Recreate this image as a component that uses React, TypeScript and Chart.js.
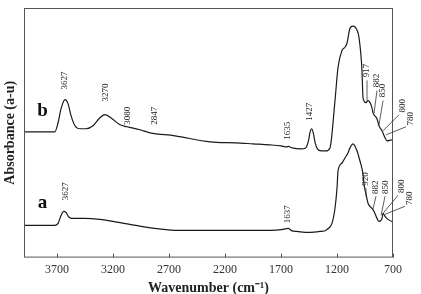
import React, { useEffect, useRef } from "react";
import { Chart, registerables } from "chart.js";

Chart.register(...registerables);

// ---- data (wavenumber cm-1, absorbance in arbitrary units) ----
const bWn = [4000, 3850, 3720, 3691, 3664, 3629, 3602, 3575, 3540, 3495, 3440, 3379, 3317, 3272, 3209, 3138, 3075, 2959, 2870, 2647, 2334, 2100, 1950, 1800, 1700, 1650, 1635, 1600, 1520, 1480, 1455, 1440, 1427, 1412, 1395, 1375, 1340, 1300, 1263, 1218, 1191, 1155, 1129, 1111, 1084, 1057, 1021, 1004, 977, 968, 941, 923, 888, 879, 843, 825, 798, 771, 754, 709, 700];
const bVal = [125, 125, 125, 134, 148, 157, 153, 141, 131, 128, 128, 131, 139, 142, 138, 132, 130, 127, 124, 121, 115, 114, 113, 112, 111, 110, 110.5, 109, 108, 109, 116, 125, 128, 124, 114, 108, 106, 106, 109, 156, 189, 206, 209, 213, 228, 230, 226, 219, 186, 159, 154, 156, 149, 144, 138, 131, 126, 119, 116, 117, 117];

const aWn = [4000, 3850, 3720, 3691, 3664, 3640, 3620, 3600, 3570, 3450, 3320, 3150, 2950, 2750, 2650, 2400, 2200, 2000, 1800, 1680, 1637, 1600, 1560, 1450, 1350, 1300, 1289, 1245, 1218, 1200, 1191, 1155, 1129, 1102, 1084, 1057, 1021, 995, 968, 959, 941, 923, 888, 870, 843, 825, 807, 798, 789, 771, 745, 709, 700];
const aVal = [32, 32, 32, 34, 42, 46, 45, 41, 39, 39, 38, 35, 31, 28, 27, 27, 27, 27, 27, 28, 29, 26.5, 26, 25, 26, 27, 28, 34, 49, 69, 86, 94, 99, 104, 109, 113, 106, 96, 83, 73, 63, 54, 49, 46, 39, 36, 37, 39, 44, 41, 38, 36, 36];

const xTicks = [3700, 3200, 2700, 2200, 1700, 1200, 700];

// peak labels: text, label centre (wn, value), optional leader from -> to
const bLabels = ["3627", "3270", "3080", "2847", "1635", "1427", "917", "882", "850", "800", "780"];
const bLabelWn = [3629, 3263, 3066, 2825, 1638, 1441, 932, 843, 789, 611, 539];
const bLabelV = [176, 164, 141, 141, 126, 145, 186, 176, 166, 151, 138];
const bLeadFromWn = [null, null, null, null, null, null, 932, 843, 789, 646, 584];
const bLeadFromV = [null, null, null, null, null, null, 176, 166, 156, 142, 130];
const bLeadToWn = [null, null, null, null, null, null, 932, 870, 825, 789, 762];
const bLeadToV = [null, null, null, null, null, null, 156, 143, 132, 126, 122];

const aLabels = ["3627", "1637", "920", "882", "850", "800", "780"];
const aLabelWn = [3620, 1638, 941, 852, 762, 620, 548];
const aLabelV = [66, 43, 78, 70, 70, 71, 59];
const aLeadFromWn = [null, null, 941, 852, 771, 655, 593];
const aLeadFromV = [null, null, 69, 61, 61, 62, 51];
const aLeadToWn = [null, null, 941, 879, 807, 789, 771];
const aLeadToV = [null, null, 61, 48, 42, 44, 43];

const seriesNames = ["b", "a"];
const seriesNameWn = [3830, 3830];
const seriesNameV = [146, 54];

const SERIF = "'Liberation Serif', 'Times New Roman', serif";

const decorations = {
  id: "decorations",
  afterDraw(chart: any) {
    const { ctx, chartArea, scales } = chart;
    const xs = scales.x;
    const ys = scales.y;
    ctx.save();
    // frame
    ctx.strokeStyle = "#555";
    ctx.lineWidth = 1;
    ctx.strokeRect(chartArea.left + 0.5, chartArea.top + 0.5, chartArea.right - chartArea.left - 1, chartArea.bottom - chartArea.top - 1);
    // inward ticks
    ctx.beginPath();
    xTicks.forEach((t) => {
      const px = Math.round(xs.getPixelForValue(t)) + 0.5;
      ctx.moveTo(px, chartArea.bottom);
      ctx.lineTo(px, chartArea.bottom - 4);
    });
    ctx.stroke();

    // labels
    const drawSet = (texts: string[], lw: number[], lv: number[], fw: any[], fv: any[], tw: any[], tv: any[]) => {
      ctx.fillStyle = "#222";
      ctx.strokeStyle = "#333";
      ctx.lineWidth = 0.8;
      ctx.font = `9px ${SERIF}`;
      ctx.textAlign = "center";
      ctx.textBaseline = "middle";
      texts.forEach((t, i) => {
        const px = xs.getPixelForValue(lw[i]);
        const py = ys.getPixelForValue(lv[i]);
        ctx.save();
        ctx.translate(px, py);
        ctx.rotate(-Math.PI / 2);
        ctx.fillText(t, 0, 0);
        ctx.restore();
        if (fw[i] != null) {
          ctx.beginPath();
          ctx.moveTo(xs.getPixelForValue(fw[i]), ys.getPixelForValue(fv[i]));
          ctx.lineTo(xs.getPixelForValue(tw[i]), ys.getPixelForValue(tv[i]));
          ctx.stroke();
        }
      });
    };
    drawSet(bLabels, bLabelWn, bLabelV, bLeadFromWn, bLeadFromV, bLeadToWn, bLeadToV);
    drawSet(aLabels, aLabelWn, aLabelV, aLeadFromWn, aLeadFromV, aLeadToWn, aLeadToV);

    // series letters
    ctx.fillStyle = "#111";
    ctx.font = `bold 19px ${SERIF}`;
    ctx.textAlign = "center";
    ctx.textBaseline = "middle";
    seriesNames.forEach((n, i) => {
      ctx.fillText(n, xs.getPixelForValue(seriesNameWn[i]), ys.getPixelForValue(seriesNameV[i]));
    });

    // axis titles
    ctx.font = `bold 14px ${SERIF}`;
    ctx.fillStyle = "#222";
    ctx.fillText("Wavenumber (cm⁻¹)", (chartArea.left + chartArea.right) / 2, chartArea.bottom + 31);
    ctx.save();
    ctx.translate(10, (chartArea.top + chartArea.bottom) / 2);
    ctx.rotate(-Math.PI / 2);
    ctx.fillText("Absorbance (a-u)", 0, 0);
    ctx.restore();
    ctx.restore();
  },
};

export default function App() {
  const ref = useRef<HTMLCanvasElement>(null);
  useEffect(() => {
    if (!ref.current) return;
    const chart = new Chart(ref.current, {
      type: "line",
      data: {
        datasets: [
          {
            label: "b",
            data: bWn.map((w, i) => ({ x: w, y: bVal[i] })),
            borderColor: "#1a1a1a",
            borderWidth: 1.2,
            pointRadius: 0,
            cubicInterpolationMode: "monotone",
          },
          {
            label: "a",
            data: aWn.map((w, i) => ({ x: w, y: aVal[i] })),
            borderColor: "#1a1a1a",
            borderWidth: 1.2,
            pointRadius: 0,
            cubicInterpolationMode: "monotone",
          },
        ],
      },
      options: {
        animation: false,
        responsive: true,
        maintainAspectRatio: false,
        layout: { padding: { left: 24, right: 28, top: 8, bottom: 12 } },
        plugins: { legend: { display: false }, tooltip: { enabled: false } },
        scales: {
          x: {
            type: "linear",
            reverse: true,
            min: 700,
            max: 3995,
            grid: { display: false, drawTicks: false },
            border: { display: false },
            afterBuildTicks: (axis: any) => {
              axis.ticks = xTicks.map((v) => ({ value: v }));
            },
            ticks: {
              color: "#333",
              font: { family: SERIF, size: 12 },
              padding: 5,
              maxRotation: 0,
              autoSkip: false,
              callback: (v: any) => String(v),
            },
          },
          y: { display: false, min: 0, max: 248 },
        },
      },
      plugins: [decorations],
    } as any);
    return () => chart.destroy();
  }, []);
  return (
    <div style={{ position: "fixed", left: 0, top: 0, width: 421, height: 294, background: "#fff" }}>
      <canvas ref={ref} />
    </div>
  );
}
